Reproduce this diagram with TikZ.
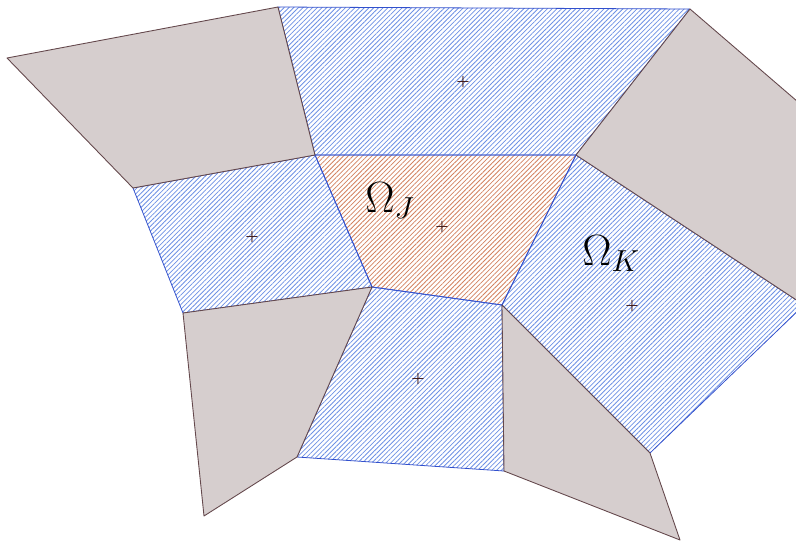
\documentclass[tikz,border=0pt]{standalone}
\usepackage{amsmath}
\usetikzlibrary{patterns.meta}

\definecolor{cellgray}{RGB}{214,206,206}
\definecolor{edgegray}{RGB}{100,72,76}
\definecolor{hatchblue}{RGB}{110,145,228}
\definecolor{edgeblue}{RGB}{50,80,205}
\definecolor{hatchorange}{RGB}{210,130,96}
\definecolor{ctrcolor}{RGB}{60,20,20}

\begin{document}
\begin{tikzpicture}[x=.02cm,y=-.02cm,
    graycell/.style={fill=cellgray,draw=edgegray,line width=.5pt,line join=round},
    bluecell/.style={draw=edgeblue,line width=.45pt,line join=round,
      pattern={Lines[angle=45,distance=1.9pt,line width=.45pt]},pattern color=hatchblue},
    orangecell/.style={draw=edgeblue,line width=.45pt,
      pattern={Lines[angle=45,distance=1.9pt,line width=.45pt]},pattern color=hatchorange},
    ctrmark/.style={inner sep=0pt,text=ctrcolor,font=\footnotesize},
    omlabel/.style={anchor=base west,inner sep=0pt,font=\fontsize{24}{28}\selectfont}]
  \useasboundingbox (0,0) rectangle (796,542);
  \clip (0,0) rectangle (796,542);
  % mesh vertices
  \coordinate (A) at (7,58);
  \coordinate (B) at (278,7);
  \coordinate (C) at (315,155);
  \coordinate (D) at (133,188);
  \coordinate (E) at (690,9);
  \coordinate (F) at (576,155);
  \coordinate (H) at (502,305);
  \coordinate (I) at (372,287);
  \coordinate (J) at (183,313);
  \coordinate (K) at (297,457);
  \coordinate (L) at (204,516);
  \coordinate (M) at (504,471);
  \coordinate (N) at (650,453);
  \coordinate (O) at (680,540);
  \coordinate (P) at (804,305);
  \coordinate (Q) at (812,114);
  % cells
  \draw[orangecell] (C)--(F)--(H)--(I)--cycle;
  \foreach \a/\b/\c/\d in {B/E/F/C, D/C/I/J, F/P/N/H, I/H/M/K}
    \draw[bluecell] (\a)--(\b)--(\c)--(\d)--cycle;
  \foreach \a/\b/\c/\d in {A/B/C/D, E/Q/P/F, J/I/K/L, H/N/O/M}
    \draw[graycell] (\a)--(\b)--(\c)--(\d)--cycle;
  % cell centres
  \node[ctrmark] (xT) at (463,82) {$\boldsymbol{+}$};
  \node[ctrmark] (xL) at (252,237) {$\boldsymbol{+}$};
  \node[ctrmark] (xJ) at (442,227) {$\boldsymbol{+}$};
  \node[ctrmark] (xK) at (632,306) {$\boldsymbol{+}$};
  \node[ctrmark] (xB) at (418,379) {$\boldsymbol{+}$};
  \node[omlabel] (omJ) at (365,212) {$\Omega_J$};
  \node[omlabel] (omK) at (582,265) {$\Omega_K$};
\end{tikzpicture}
\end{document}
